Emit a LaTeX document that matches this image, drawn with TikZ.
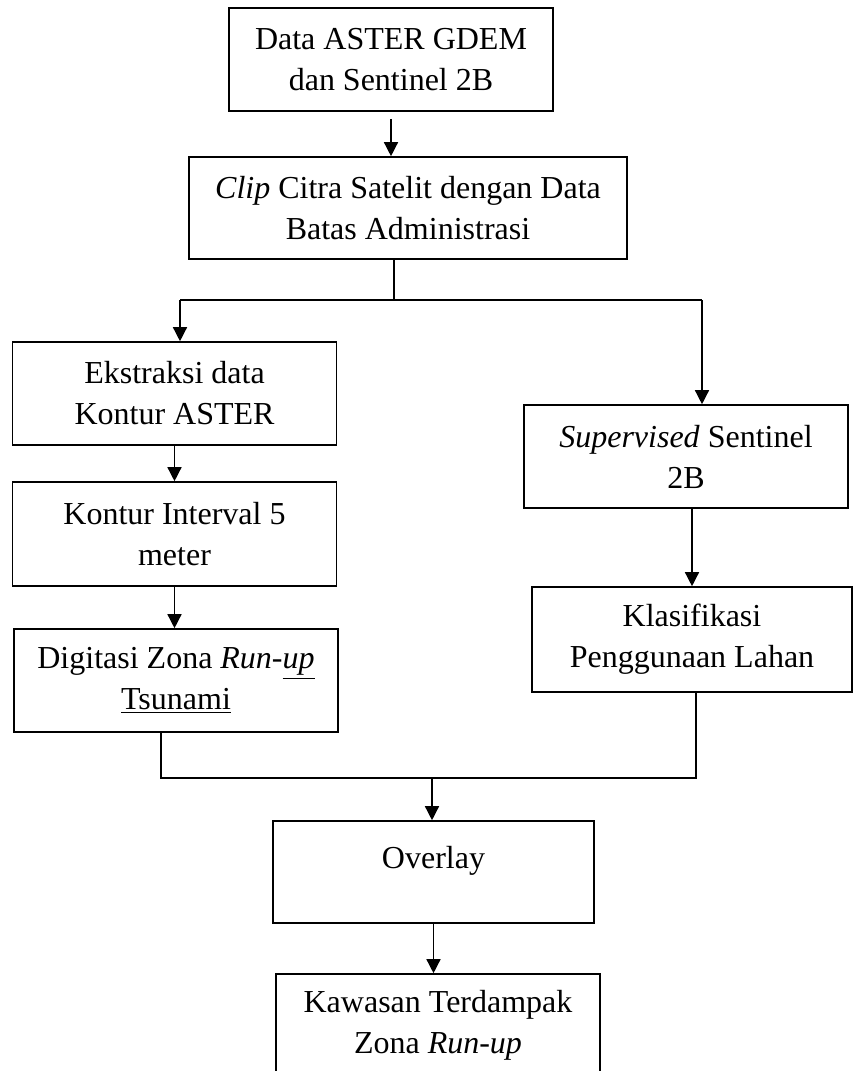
\documentclass[tikz,border=0pt]{standalone}
\usepackage{fontspec}
\setmainfont{Liberation Serif}
\usetikzlibrary{arrows.meta}

\begin{document}
\begin{tikzpicture}[x=0.5pt,y=-0.5pt,
	box/.style={draw,rectangle,line width=0.8pt,inner sep=0pt,align=center,
		minimum width=162pt,minimum height=51.5pt,
		font=\fontsize{16pt}{20.5pt}\selectfont},
	wire/.style={line width=0.7pt},
	flow/.style={->,>={Triangle[length=7pt,width=7pt]},line width=0.7pt}]
\path[use as bounding box,clip] (0,0) rectangle (853,1071);

\node[box] (data) at (391,59.5) {Data ASTER GDEM\\dan Sentinel 2B};
\node[box,minimum width=219pt,minimum height=51pt] (clip) at (408,208) {\textit{Clip} Citra Satelit dengan Data\\Batas Administrasi};
\node[box] (ekstraksi) at (174.5,393.5) {Ekstraksi data\\Kontur ASTER};
\node[box,minimum height=52pt] (kontur) at (174.5,534) {Kontur Interval 5\\meter};
\node[box] (digitasi) at (176,680.5) {Digitasi Zona \textit{Run-\underline{up}}\\\underline{Tsunami}};
\node[box] (supervised) at (686,456.5) {\textit{Supervised} Sentinel\\2B};
\node[box,minimum width=160pt,minimum height=52.5pt] (klasifikasi) at (692,639.5) {Klasifikasi\\Penggunaan Lahan};
\node[box,minimum width=160.5pt,minimum height=51pt,text depth=15pt] (overlay) at (433.5,872) {Overlay};
\node[box] (kawasan) at (438,1025.5) {Kawasan Terdampak\\Zona \textit{Run-up}};

% split after clipping
\coordinate (split) at (394,300);
\coordinate (splitL) at (180,300);
\coordinate (splitR) at (702,300);
% merge before overlay
\coordinate (merge) at (432,778);
\coordinate (mergeL) at (161,778);
\coordinate (mergeR) at (696,778);

\draw[flow,shorten <=3.5pt] (data.south) -- (data.south |- clip.north);
\draw[wire] (split |- clip.south) -- (split);
\draw[wire] (splitL) -- (splitR);
\draw[flow] (splitL) -- (splitL |- ekstraksi.north);
\draw[flow] (splitR) -- (splitR |- supervised.north);
\draw[flow] (ekstraksi) -- (kontur);
\draw[flow] (kontur.south) -- (kontur.south |- digitasi.north);
\draw[flow] (supervised.south -| klasifikasi.north) -- (klasifikasi.north);
\draw[wire] (mergeL |- digitasi.south) -- (mergeL) -- (mergeR) -- (mergeR |- klasifikasi.south);
\draw[flow] (merge) -- (merge |- overlay.north);
\draw[flow] (overlay.south) -- (overlay.south |- kawasan.north);

\end{tikzpicture}
\end{document}
